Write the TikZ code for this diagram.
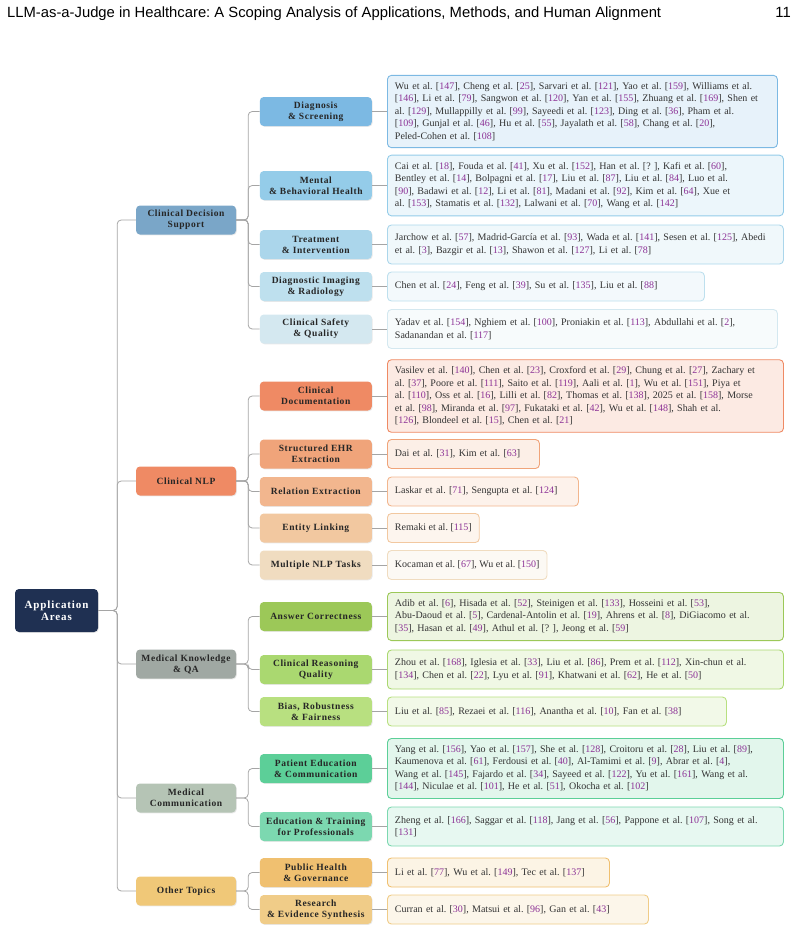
\documentclass[tikz,border=0pt]{standalone}
\usepackage{fontspec}
\setmainfont{Liberation Serif}
\newfontfamily\headfont{Liberation Sans}
\newfontfamily\labfont[LetterSpace=6]{Liberation Serif}
\newfontfamily\rootfont[LetterSpace=8]{Liberation Serif}
\usetikzlibrary{positioning,calc,shadows}
\frenchspacing

\definecolor{citecol}{RGB}{140,50,150}
\definecolor{linkgray}{RGB}{165,165,165}
\definecolor{navy}{RGB}{31,48,82}
\definecolor{cdsc}{RGB}{122,166,200}
\definecolor{nlpc}{RGB}{239,138,100}
\definecolor{qac}{RGB}{160,168,163}
\definecolor{commc}{RGB}{181,196,181}
\definecolor{othc}{RGB}{240,200,120}
\definecolor{dxc}{RGB}{124,185,227}
\definecolor{mhc}{RGB}{148,204,233}
\definecolor{trc}{RGB}{171,214,235}
\definecolor{imc}{RGB}{190,224,238}
\definecolor{sqc}{RGB}{212,232,240}
\definecolor{cdc}{RGB}{239,138,100}
\definecolor{ehc}{RGB}{240,164,122}
\definecolor{rec}{RGB}{242,182,142}
\definecolor{elc}{RGB}{242,200,160}
\definecolor{mnc}{RGB}{240,220,192}
\definecolor{acc}{RGB}{156,200,88}
\definecolor{crc}{RGB}{170,216,112}
\definecolor{brc}{RGB}{184,224,128}
\definecolor{pec}{RGB}{92,207,152}
\definecolor{edc}{RGB}{124,216,176}
\definecolor{phc}{RGB}{240,192,112}
\definecolor{rsc}{RGB}{240,204,136}

\newcommand{\rf}[1]{[\textcolor{citecol}{#1}]}

\begin{document}
\begin{tikzpicture}[x=1pt,y=-1pt]
\tikzset{box/.style={rounded corners=4pt,align=center,inner sep=2pt,text=black!85,
    font=\labfont\bfseries\fontsize{9.5}{11}\selectfont,
    drop shadow={opacity=0.18,shadow xshift=0.8pt,shadow yshift=-0.8pt}},
  rootbox/.style={box,fill=navy,text=white,minimum width=83pt,minimum height=43pt,
    font=\rootfont\bfseries\fontsize{11}{12}\selectfont},
  lone/.style={box,minimum width=100pt,minimum height=29pt},
  ltwo/.style={box,minimum width=112pt,minimum height=29pt},
  leaf/.style={draw=#1,fill=#1!18,line width=0.9pt,rounded corners=4pt,anchor=west,
    align=left,inner xsep=7.5pt,inner ysep=7pt,minimum height=29pt,text=black!80,
    font=\fontsize{10}{12.5}\selectfont},
  wide/.style={leaf=#1,text width=381pt},
  link/.style={draw=linkgray,line width=0.8pt,rounded corners=4pt}}
\useasboundingbox (0,0) rectangle (799,932);

\node[anchor=base west,inner sep=0,font=\headfont\fontsize{14.8}{16}\selectfont] (title) at (7,17)
  {LLM-as-a-Judge in Healthcare: A Scoping Analysis of Applications, Methods, and Human Alignment};
\node[anchor=base east,inner sep=0,font=\headfont\fontsize{14.8}{16}\selectfont] (pageno) at (791,17) {11};

% leaves
\node[wide=dxc,text width=375pt] (dxl) at (387,111.5) {Wu et al. \rf{147}, Cheng et al. \rf{25}, Sarvari et al. \rf{121}, Yao et al. \rf{159}, Williams et al.\\
  \rf{146}, Li et al. \rf{79}, Sangwon et al. \rf{120}, Yan et al. \rf{155}, Zhuang et al. \rf{169}, Shen et\\
  al. \rf{129}, Mullappilly et al. \rf{99}, Sayeedi et al. \rf{123}, Ding et al. \rf{36}, Pham et al.\\
  \rf{109}, Gunjal et al. \rf{46}, Hu et al. \rf{55}, Jayalath et al. \rf{58}, Chang et al. \rf{20},\\
  Peled-Cohen et al. \rf{108}};
\node[wide=mhc] (mhl) at (387,185.5) {Cai et al. \rf{18}, Fouda et al. \rf{41}, Xu et al. \rf{152}, Han et al. [?\ ], Kafi et al. \rf{60},\\
  Bentley et al. \rf{14}, Bolpagni et al. \rf{17}, Liu et al. \rf{87}, Liu et al. \rf{84}, Luo et al.\\
  \rf{90}, Badawi et al. \rf{12}, Li et al. \rf{81}, Madani et al. \rf{92}, Kim et al. \rf{64}, Xue et\\
  al. \rf{153}, Stamatis et al. \rf{132}, Lalwani et al. \rf{70}, Wang et al. \rf{142}};
\node[wide=trc,minimum height=39pt] (trl) at (387,244.5) {Jarchow et al. \rf{57}, Madrid-García et al. \rf{93}, Wada et al. \rf{141}, Sesen et al. \rf{125}, Abedi\\
  et al. \rf{3}, Bazgir et al. \rf{13}, Shawon et al. \rf{127}, Li et al. \rf{78}};
\node[leaf=imc,text width=302pt] (iml) at (387,286.5) {Chen et al. \rf{24}, Feng et al. \rf{39}, Su et al. \rf{135}, Liu et al. \rf{88}};
\node[wide=sqc,text width=375pt,minimum height=39pt] (sql) at (387,329) {Yadav et al. \rf{154}, Nghiem et al. \rf{100}, Proniakin et al. \rf{113}, Abdullahi et al. \rf{2},\\
  Sadanandan et al. \rf{117}};
\node[wide=cdc] (cdl) at (387,396) {Vasilev et al. \rf{140}, Chen et al. \rf{23}, Croxford et al. \rf{29}, Chung et al. \rf{27}, Zachary et\\
  al. \rf{37}, Poore et al. \rf{111}, Saito et al. \rf{119}, Aali et al. \rf{1}, Wu et al. \rf{151}, Piya et\\
  al. \rf{110}, Oss et al. \rf{16}, Lilli et al. \rf{82}, Thomas et al. \rf{138}, 2025 et al. \rf{158}, Morse\\
  et al. \rf{98}, Miranda et al. \rf{97}, Fukataki et al. \rf{42}, Wu et al. \rf{148}, Shah et al.\\
  \rf{126}, Blondeel et al. \rf{15}, Chen et al. \rf{21}};
\node[leaf=ehc,text width=137pt] (ehl) at (387,454) {Dai et al. \rf{31}, Kim et al. \rf{63}};
\node[leaf=rec,text width=176pt] (rel) at (387,491.5) {Laskar et al. \rf{71}, Sengupta et al. \rf{124}};
\node[leaf=elc] (ell) at (387,528) {Remaki et al. \rf{115}};
\node[leaf=mnc] (mnl) at (387,565) {Kocaman et al. \rf{67}, Wu et al. \rf{150}};
\node[wide=acc] (acl) at (387,616.5) {Adib et al. \rf{6}, Hisada et al. \rf{52}, Steinigen et al. \rf{133}, Hosseini et al. \rf{53},\\
  Abu-Daoud et al. \rf{5}, Cardenal-Antolin et al. \rf{19}, Ahrens et al. \rf{8}, DiGiacomo et al.\\
  \rf{35}, Hasan et al. \rf{49}, Athul et al. [?\ ], Jeong et al. \rf{59}};
\node[wide=crc,minimum height=39pt] (crl) at (387,669.5) {Zhou et al. \rf{168}, Iglesia et al. \rf{33}, Liu et al. \rf{86}, Prem et al. \rf{112}, Xin-chun et al.\\
  \rf{134}, Chen et al. \rf{22}, Lyu et al. \rf{91}, Khatwani et al. \rf{62}, He et al. \rf{50}};
\node[leaf=brc,text width=324pt] (brl) at (387,711.5) {Liu et al. \rf{85}, Rezaei et al. \rf{116}, Anantha et al. \rf{10}, Fan et al. \rf{38}};
\node[wide=pec] (pel) at (387,768.5) {Yang et al. \rf{156}, Yao et al. \rf{157}, She et al. \rf{128}, Croitoru et al. \rf{28}, Liu et al. \rf{89},\\
  Kaumenova et al. \rf{61}, Ferdousi et al. \rf{40}, Al-Tamimi et al. \rf{9}, Abrar et al. \rf{4},\\
  Wang et al. \rf{145}, Fajardo et al. \rf{34}, Sayeed et al. \rf{122}, Yu et al. \rf{161}, Wang et al.\\
  \rf{144}, Niculae et al. \rf{101}, He et al. \rf{51}, Okocha et al. \rf{102}};
\node[wide=edc,minimum height=39pt] (edl) at (387,826.5) {Zheng et al. \rf{166}, Saggar et al. \rf{118}, Jang et al. \rf{56}, Pappone et al. \rf{107}, Song et al.\\
  \rf{131}};
\node[leaf=phc,text width=207pt] (phl) at (387,872.5) {Li et al. \rf{77}, Wu et al. \rf{149}, Tec et al. \rf{137}};
\node[leaf=rsc,text width=246pt] (rsl) at (387,909.5) {Curran et al. \rf{30}, Matsui et al. \rf{96}, Gan et al. \rf{43}};

% second level
\node[ltwo,fill=dxc,left=15pt of dxl] (dx) {Diagnosis\\\& Screening};
\node[ltwo,fill=mhc,left=15pt of mhl] (mh) {Mental\\\& Behavioral Health};
\node[ltwo,fill=trc,left=15pt of trl] (tr) {Treatment\\\& Intervention};
\node[ltwo,fill=imc,left=15pt of iml] (im) {Diagnostic Imaging\\\& Radiology};
\node[ltwo,fill=sqc,left=15pt of sql] (sq) {Clinical Safety\\\& Quality};
\node[ltwo,fill=cdc,left=15pt of cdl] (cd) {Clinical\\Documentation};
\node[ltwo,fill=ehc,left=15pt of ehl] (eh) {Structured EHR\\Extraction};
\node[ltwo,fill=rec,left=15pt of rel] (re) {Relation Extraction};
\node[ltwo,fill=elc,left=15pt of ell] (el) {Entity Linking};
\node[ltwo,fill=mnc,left=15pt of mnl] (mn) {Multiple NLP Tasks};
\node[ltwo,fill=acc,left=15pt of acl] (ac) {Answer Correctness};
\node[ltwo,fill=crc,left=15pt of crl] (cr) {Clinical Reasoning\\Quality};
\node[ltwo,fill=brc,left=15pt of brl] (br) {Bias, Robustness\\\& Fairness};
\node[ltwo,fill=pec,left=15pt of pel] (pe) {Patient Education\\\& Communication};
\node[ltwo,fill=edc,left=15pt of edl] (ed) {Education \& Training\\for Professionals};
\node[ltwo,fill=phc,left=15pt of phl] (ph) {Public Health\\\& Governance};
\node[ltwo,fill=rsc,left=15pt of rsl] (rs) {Research\\\& Evidence Synthesis};

% first level and root
\node[lone,fill=cdsc] (cds) at (186,220) {Clinical Decision\\Support};
\node[lone,fill=nlpc] (nlp) at (186,481) {Clinical NLP};
\node[lone,fill=qac] (qa) at (186,664) {Medical Knowledge\\\& QA};
\node[lone,fill=commc] (comm) at (186,798) {Medical\\Communication};
\node[lone,fill=othc] (oth) at (186,891) {Other Topics};
\node[rootbox] (root) at (56.5,610.5) {Application\\Areas};

% connectors
\foreach \c in {cds,nlp,qa,comm,oth}
  \draw[link] (root.east) -- ++(19pt,0) |- (\c.west);
\foreach \c in {dx,mh,tr,im,sq} \draw[link] (cds.east) -- ++(12pt,0) |- (\c.west);
\foreach \c in {cd,eh,re,el,mn} \draw[link] (nlp.east) -- ++(12pt,0) |- (\c.west);
\foreach \c in {ac,cr,br} \draw[link] (qa.east) -- ++(12pt,0) |- (\c.west);
\foreach \c in {pe,ed} \draw[link] (comm.east) -- ++(12pt,0) |- (\c.west);
\foreach \c in {ph,rs} \draw[link] (oth.east) -- ++(12pt,0) |- (\c.west);
\foreach \c in {dx,mh,tr,im,sq,cd,eh,re,el,mn,ac,cr,br,pe,ed,ph,rs}
  \draw[link] (\c.east) -- (\c l.west);
\end{tikzpicture}
\end{document}
